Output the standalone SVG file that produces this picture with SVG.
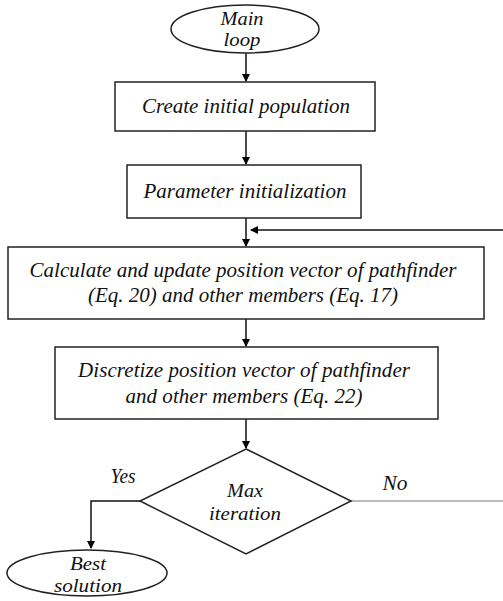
<svg xmlns="http://www.w3.org/2000/svg" width="503" height="601" viewBox="0 0 503 601">
<defs>
<marker id="ah" markerWidth="8" markerHeight="8" refX="7" refY="4" orient="auto" markerUnits="userSpaceOnUse">
<path d="M0,0 L8,4 L0,8 Z" fill="#000"/>
</marker>
<style>
.n{fill:#fff;stroke:#222;stroke-width:1.5}
.t{font-family:"Liberation Serif","Times New Roman",serif;font-style:italic;font-size:21px;fill:#111;text-anchor:middle}
.s{font-size:18px}
.c{fill:none;stroke:#111;stroke-width:1.5}
.g{fill:none;stroke:#777;stroke-width:1}
</style>
</defs>
<rect width="503" height="601" fill="#fff"/>
<g id="connectors">
<line class="c" x1="246" y1="53" x2="246" y2="81" marker-end="url(#ah)"/>
<line class="c" x1="246" y1="131" x2="246" y2="164" marker-end="url(#ah)"/>
<line class="c" x1="246" y1="218" x2="246" y2="246" marker-end="url(#ah)"/>
<line class="c" x1="503" y1="230" x2="251" y2="230" marker-end="url(#ah)"/>
<line class="c" x1="246" y1="319" x2="246" y2="346" marker-end="url(#ah)"/>
<line class="c" x1="246" y1="419" x2="246" y2="448" marker-end="url(#ah)"/>
<polyline class="c" points="140,501 91,501 91,548" marker-end="url(#ah)"/>
<line class="g" x1="351" y1="501" x2="503" y2="501"/>
<text class="t" x="123" y="483" textLength="25" lengthAdjust="spacingAndGlyphs">Yes</text>
<text class="t" x="395" y="490" textLength="25" lengthAdjust="spacingAndGlyphs">No</text>
</g>
<g id="main-loop">
<ellipse class="n" cx="245" cy="29" rx="74" ry="24"/>
<text class="t s" x="242" y="25" textLength="43" lengthAdjust="spacingAndGlyphs">Main</text>
<text class="t s" x="242" y="46" textLength="37" lengthAdjust="spacingAndGlyphs">loop</text>
</g>
<g id="create-population">
<rect class="n" x="115" y="82" width="260" height="49"/>
<text class="t" x="246" y="113" textLength="208" lengthAdjust="spacing">Create initial population</text>
</g>
<g id="parameter-init">
<rect class="n" x="127" y="165" width="234" height="53"/>
<text class="t" x="245" y="198" textLength="203" lengthAdjust="spacing">Parameter initialization</text>
</g>
<g id="calculate-update">
<rect class="n" x="8" y="247" width="476" height="72"/>
<text class="t" x="243" y="277" textLength="427" lengthAdjust="spacing">Calculate and update position vector of pathfinder</text>
<text class="t" x="243" y="302" textLength="310" lengthAdjust="spacing">(Eq. 20) and other members (Eq. 17)</text>
</g>
<g id="discretize">
<rect class="n" x="55" y="347" width="383" height="72"/>
<text class="t" x="244" y="377" textLength="332" lengthAdjust="spacing">Discretize position vector of pathfinder</text>
<text class="t" x="244" y="403" textLength="237" lengthAdjust="spacing">and other members (Eq. 22)</text>
</g>
<g id="max-iteration">
<polygon class="n" points="246,449 351,501 246,554 140,501"/>
<text class="t s" x="245" y="497" textLength="36" lengthAdjust="spacingAndGlyphs">Max</text>
<text class="t s" x="245" y="520" textLength="72" lengthAdjust="spacingAndGlyphs">iteration</text>
</g>
<g id="best-solution">
<ellipse class="n" cx="87" cy="573" rx="80" ry="23"/>
<text class="t s" x="88" y="570" textLength="36" lengthAdjust="spacingAndGlyphs">Best</text>
<text class="t s" x="88" y="592" textLength="68" lengthAdjust="spacingAndGlyphs">solution</text>
</g>
</svg>
